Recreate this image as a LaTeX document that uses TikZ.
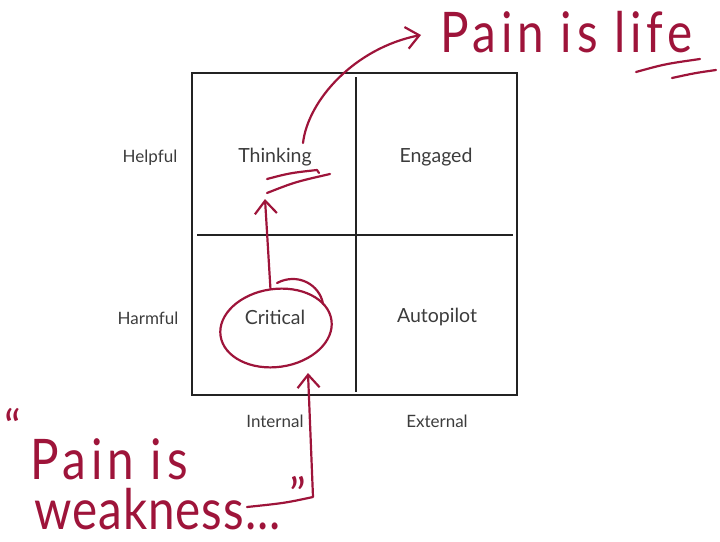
\documentclass[tikz,border=0pt]{standalone}
\usepackage{fontspec}
\setmainfont{Lato}
\usetikzlibrary{arrows.meta,shapes.geometric}
\definecolor{ink}{RGB}{158,20,58}
\definecolor{txt}{RGB}{60,60,60}
\definecolor{frame}{RGB}{35,35,35}
\begin{document}
\begin{tikzpicture}[x=1pt,y=-1pt,
  lab/.style={text=txt,font=\fontsize{19.5}{22}\selectfont,inner sep=0},
  side/.style={text=txt,font=\fontsize{17}{20}\selectfont,inner sep=0},
  hand/.style={draw=ink,line width=2.2pt,line cap=round,line join=round},
  barb/.style={-{Straight Barb[length=13pt,width=22pt,line width=2.2pt]}},
  script/.style={text=ink,inner sep=0,xscale=0.85,font=\fontsize{56}{50}\selectfont\addfontfeature{LetterSpace=#1}},
  script/.default=6,
  quote/.style={text=ink,inner sep=0,font=\fontsize{46}{50}\selectfont}]
\useasboundingbox (0,0) rectangle (720,541);
% frame
\draw[frame,line width=2pt] (192,73) rectangle (517,395);
\draw[frame,line width=2pt] (356,77) -- (356,392);
\draw[frame,line width=2pt] (197,235) -- (513,235);
% labels
\node[lab] (think) at (275,157) {Thinking};
\node[lab] (eng) at (436,157) {Engaged};
\node[lab] (crit) at (275,317) {Critical};
\node[lab] (auto) at (437,317) {Autopilot};
\node[side] (help) at (150,158) {Helpful};
\node[side] (harm) at (148,318) {Harmful};
\node[side] (int) at (275,421) {Internal};
\node[side] (ext) at (437,421) {External};
% handwriting
\node[script=10,anchor=base west] (life) at (440,52) {Pain is life};
\node[quote] (oq) at (13,426) {\char"201C};
\node[script=2,align=left,anchor=south west] (weak) at (30,530)
  {{\addfontfeature{LetterSpace=10}Pain is}\\\hspace*{5pt}weakness...};
\node[quote] (cq) at (298,494) {\char"201D};
% ellipse round Critical
\node[hand,ellipse,minimum width=112pt,minimum height=78pt,rotate=8] (circ) at (276,328) {};
\draw[hand] (277,283) .. controls (298,272) and (320,285) .. (323,304);
% underlines
\coordinate (u1a) at (267,179); \coordinate (u1b) at (317,170);
\coordinate (u2a) at (267,193); \coordinate (u2b) at (330,174);
\draw[hand] (u1a) .. controls (290,173) .. (u1b) -- ++(2,3);
\draw[hand] (u2a) .. controls (295,182) .. (u2b);
\draw[hand] (636,72) .. controls (665,64) .. (700,59);
\draw[hand] (672,78) .. controls (695,73) .. (716,70);
% arrows
\coordinate (uptip) at (265,199);
\draw[hand,barb] (circ.north) -- (uptip);
\coordinate (cstart) at (303,143);
\coordinate (ltip) at (421,35);
\draw[hand,barb] (cstart) .. controls (308,100) and (355,48) .. (ltip);
\coordinate (wend) at (247,507);
\coordinate (corner) at (313,497);
\coordinate (btip) at (308,373);
\draw[hand,barb] (wend) .. controls (285,503) .. (corner) -- (btip);
\end{tikzpicture}
\end{document}
